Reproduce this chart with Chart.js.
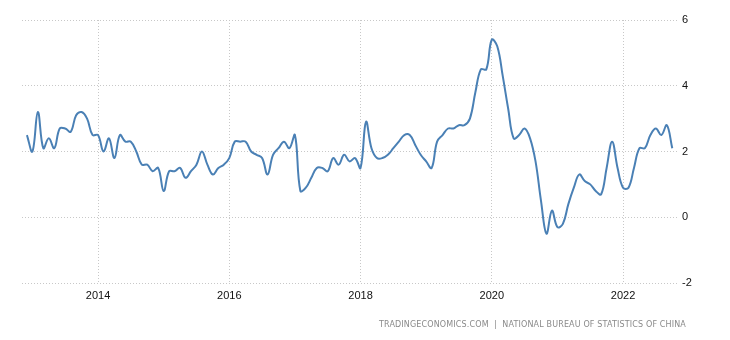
<!DOCTYPE html>
<html>
<head>
<meta charset="utf-8">
<script src="https://cdn.jsdelivr.net/npm/chart.js@4"></script>
<style>
  html, body { margin: 0; padding: 0; background: #fff; }
  #wrap { position: relative; width: 730px; height: 340px; }
  #source {
    position: absolute; right: 44px; top: 320px;
    font: 8px "DejaVu Sans", sans-serif; color: #8a8a8a; letter-spacing: 0.15px;
    white-space: nowrap;
  }
</style>
</head>
<body>
<div id="wrap">
  <canvas id="chart" width="730" height="340"></canvas>
  <div id="source">TRADINGECONOMICS.COM &nbsp;|&nbsp; NATIONAL BUREAU OF STATISTICS OF CHINA</div>
</div>
<script>
// monthly CPI yoy, Dec 2012 .. Oct 2022
const startYear = 2012;
const startMonth = 11; // 0-based, December
const inflation = [
    2.5,
    2.0, 3.2, 2.1, 2.4, 2.1, 2.7, 2.7, 2.6, 3.1, 3.2, 3.0, 2.5,
    2.5, 2.0, 2.4, 1.8, 2.5, 2.3, 2.3, 2.0, 1.6, 1.6, 1.4, 1.5,
    0.8, 1.4, 1.4, 1.5, 1.2, 1.4, 1.6, 2.0, 1.6, 1.3, 1.5, 1.6,
    1.8, 2.3, 2.3, 2.3, 2.0, 1.9, 1.8, 1.3, 1.9, 2.1, 2.3, 2.1,
    2.5, 0.8, 0.9, 1.2, 1.5, 1.5, 1.4, 1.8, 1.6, 1.9, 1.7, 1.8,
    1.5, 2.9, 2.1, 1.8, 1.8, 1.9, 2.1, 2.3, 2.5, 2.5, 2.2, 1.9,
    1.7, 1.5, 2.3, 2.5, 2.7, 2.7, 2.8, 2.8, 3.0, 3.8, 4.5, 4.5,
    5.4, 5.2, 4.3, 3.3, 2.4, 2.5, 2.7, 2.4, 1.7, 0.5, -0.5, 0.2,
    -0.3, -0.2, 0.4, 0.9, 1.3, 1.1, 1.0, 0.8, 0.7, 1.5, 2.3, 1.5,
    0.9, 0.9, 1.5, 2.1, 2.1, 2.5, 2.7, 2.5, 2.8, 2.1
];
const tickYears = [2014, 2016, 2018, 2020, 2022];
const yTicks = [-2, 0, 2, 4, 6];

// month index relative to the first point
function monthIndex(year, month) {
    return (year - startYear) * 12 + (month - startMonth);
}

const points = inflation.map((v, i) => ({ x: i, y: v }));
const gridColor = "#c8c8c8";

const ctx = document.getElementById("chart").getContext("2d");
new Chart(ctx, {
    type: "line",
    data: {
        datasets: [{
            data: points,
            borderColor: "#4a80b5",
            borderWidth: 2,
            pointRadius: 0,
            tension: 0.4,
            fill: false
        }]
    },
    options: {
        responsive: false,
        animation: false,
        layout: { padding: { left: 22, top: 20, right: 0, bottom: 0 } },
        plugins: { legend: { display: false }, tooltip: { enabled: false } },
        scales: {
            x: {
                type: "linear",
                min: -0.9,
                max: 119.05,
                afterBuildTicks: s => { s.ticks = tickYears.map(y => ({ value: monthIndex(y, 0) })); },
                afterFit: s => { s.height = 57; },
                ticks: {
                    autoSkip: false,
                    maxRotation: 0,
                    padding: 6,
                    color: "#111",
                    font: { family: "Liberation Sans", size: 11 },
                    callback: v => String(startYear + Math.floor((v + startMonth) / 12))
                },
                grid: { color: gridColor, drawTicks: false },
                border: { display: false, dash: [1, 2] }
            },
            y: {
                position: "right",
                min: -2,
                max: 6,
                afterBuildTicks: s => { s.ticks = yTicks.map(v => ({ value: v })); },
                afterFit: s => { s.width = 52; },
                ticks: {
                    padding: 4,
                    color: "#111",
                    font: { family: "Liberation Sans", size: 11 }
                },
                grid: { color: gridColor, drawTicks: false },
                border: { display: false, dash: [1, 2] }
            }
        }
    }
});
</script>
</body>
</html>
